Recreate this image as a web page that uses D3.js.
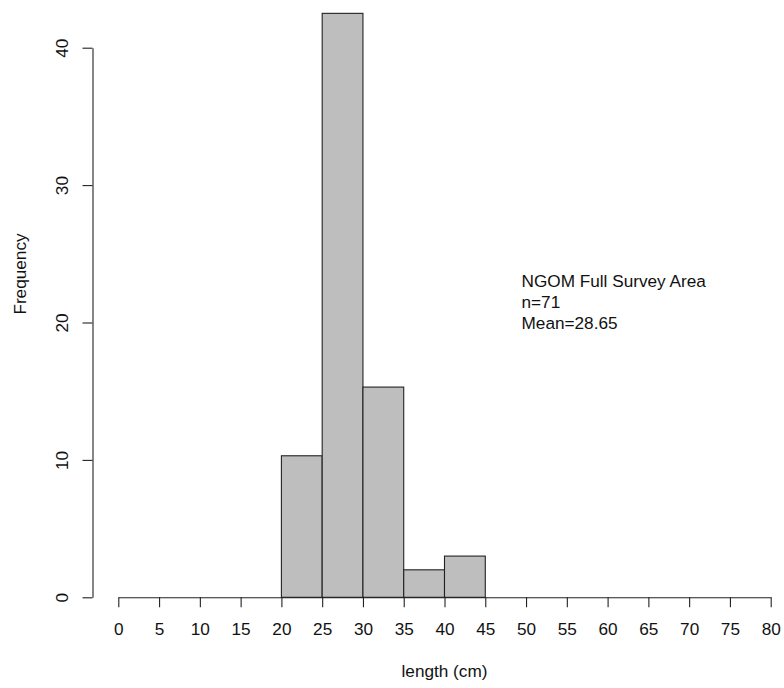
<!DOCTYPE html>
<html>
<head>
<meta charset="utf-8">
<script src="https://cdn.jsdelivr.net/npm/d3@7"></script>
<style>
  html, body { margin: 0; padding: 0; background: #fff; }
  svg { display: block; font-family: "Liberation Sans", Arial, sans-serif; }
</style>
</head>
<body>
<svg id="chart" width="784" height="688"></svg>
<script>
// ---- data ----
const binStarts = [20, 25, 30, 35, 40];
const binEnds   = [25, 30, 35, 40, 45];
const frequencies = [10.3, 42.5, 15.3, 2, 3];
const xTickValues = [0, 5, 10, 15, 20, 25, 30, 35, 40, 45, 50, 55, 60, 65, 70, 75, 80];
const yTickValues = [0, 10, 20, 30, 40];
const xLabel = "length (cm)";
const yLabel = "Frequency";
const noteLines = ["NGOM Full Survey Area", "n=71", "Mean=28.65"];

// ---- layout ----
const FS = 17.2;
const svg = d3.select("#chart");
const x = d3.scaleLinear().domain([0, 80]).range([118.3, 770.7]);
const y = d3.scaleLinear().domain([0, 40]).range([597.3, 47.7]);
const axisX = 92.5;

const bins = binStarts.map((s, i) => ({ x0: s, x1: binEnds[i], v: frequencies[i] }));

// bars
svg.append("g").selectAll("rect")
  .data(bins)
  .join("rect")
  .attr("x", d => x(d.x0))
  .attr("y", d => y(d.v))
  .attr("width", d => x(d.x1) - x(d.x0))
  .attr("height", d => y(0) - y(d.v))
  .attr("fill", "#bebebe")
  .attr("stroke", "#222")
  .attr("stroke-width", 1.1);

// x axis
const gx = svg.append("g")
  .attr("transform", `translate(0,${y(0)})`)
  .call(d3.axisBottom(x).tickValues(xTickValues).tickSize(10).tickSizeOuter(0).tickFormat(d3.format("d")));
gx.select(".domain").attr("stroke", "#222").attr("stroke-width", 1.1);
gx.selectAll(".tick line").attr("stroke", "#222").attr("stroke-width", 1.1);
gx.selectAll(".tick text")
  .attr("font-size", FS).attr("font-family", "Liberation Sans, Arial, sans-serif")
  .attr("fill", "#111")
  .attr("y", 38).attr("dy", 0);

// y axis
const gy = svg.append("g")
  .attr("transform", `translate(${axisX},0)`)
  .call(d3.axisLeft(y).tickValues(yTickValues).tickSize(10).tickSizeOuter(0).tickFormat(d3.format("d")));
gy.select(".domain").attr("stroke", "#222").attr("stroke-width", 1.1);
gy.selectAll(".tick line").attr("stroke", "#222").attr("stroke-width", 1.1);
gy.selectAll(".tick text")
  .attr("font-size", FS).attr("font-family", "Liberation Sans, Arial, sans-serif")
  .attr("fill", "#111")
  .attr("text-anchor", "middle")
  .attr("transform", "rotate(-90)")
  .attr("x", 0).attr("y", -25).attr("dy", 0);

// axis titles
svg.append("text")
  .attr("x", (x(0) + x(80)) / 2).attr("y", 677)
  .attr("text-anchor", "middle").attr("font-size", FS).attr("fill", "#111")
  .text(xLabel);

svg.append("text")
  .attr("transform", `translate(25.5,${274}) rotate(-90)`)
  .attr("text-anchor", "middle").attr("font-size", FS).attr("fill", "#111")
  .text(yLabel);

// annotation
svg.append("g").selectAll("text")
  .data(noteLines)
  .join("text")
  .attr("x", 521.5)
  .attr("y", (d, i) => 287 + i * 21)
  .attr("font-size", FS).attr("fill", "#111")
  .text(d => d);
</script>
</body>
</html>
